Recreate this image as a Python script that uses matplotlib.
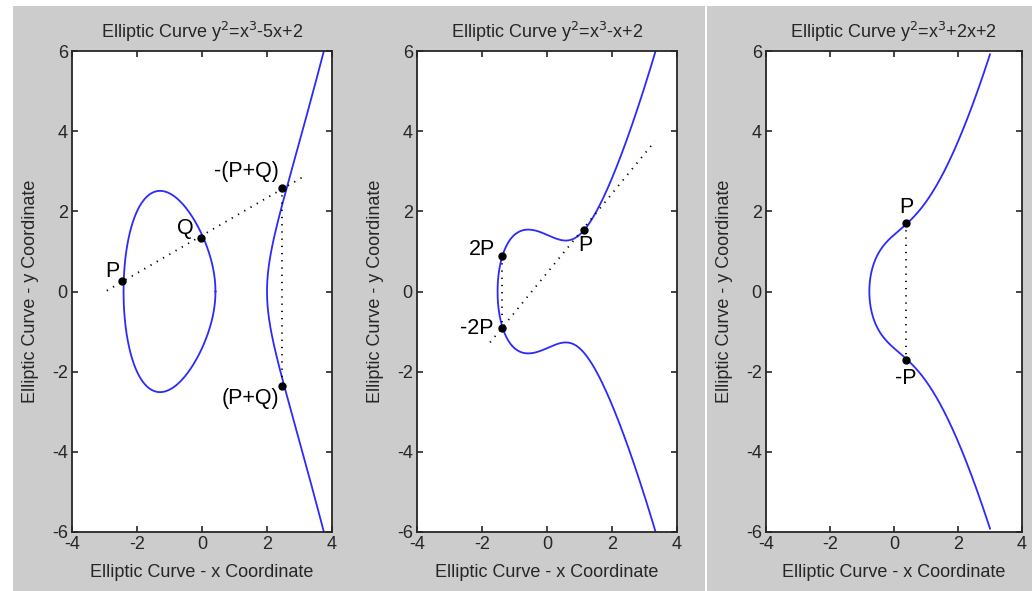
import numpy as np
import matplotlib.pyplot as plt
from matplotlib.patches import Rectangle

plt.rcParams['font.family'] = ['Liberation Sans', 'DejaVu Sans']
plt.rcParams['axes.unicode_minus'] = False

# curve coefficients y^2 = x^3 + a*x + b, read from the titles
coef_a = [-5, -1, 2]
coef_b = [2, 2, 2]
titles = ['Elliptic Curve y$^2$=x$^3$-5x+2',
          'Elliptic Curve y$^2$=x$^3$-x+2',
          'Elliptic Curve y$^2$=x$^3$+2x+2']
x_end = [3.8, 3.4, 3.0]

# marked points (x, y) and labels per panel
pts = [
    [(-2.47, 0.26), (-0.04, 1.34), (2.47, 2.57), (2.47, -2.36)],
    [(-1.38, 0.89), (-1.38, -0.92), (1.15, 1.54)],
    [(0.38, 1.72), (0.38, -1.71)],
]
pt_labels = [
    [('P', -2.77, 0.5), ('Q', -0.52, 1.56), ('-(P+Q)', 1.37, 2.99), ('(P+Q)', 1.48, -2.66)],
    [('2P', -2.01, 1.04), ('-2P', -2.16, -0.92), ('P', 1.19, 1.14)],
    [('P', 0.38, 2.1), ('-P', 0.38, -2.18)],
]
# dotted construction lines: (x0, y0, x1, y1)
dot_lines = [
    [(-2.93, 0.02, 3.09, 2.85), (2.47, 2.57, 2.47, -2.36)],
    [(-1.75, -1.27, 3.32, 3.75), (-1.38, 0.89, -1.38, -0.92)],
    [(0.38, 1.72, 0.38, -1.71)],
]

W, H = 1032, 591
fig = plt.figure(figsize=(W / 100, H / 100), dpi=100, facecolor='white')
# grey figure background (MATLAB style) with a white seam between the two source images
fig.patches.append(Rectangle((13 / W, 0), 1 - 13 / W, (H - 6) / H, transform=fig.transFigure,
                             facecolor='#cccccc', edgecolor='none', zorder=-10))
fig.patches.append(Rectangle((705 / W, 0), 2 / W, (H - 6) / H, transform=fig.transFigure,
                             facecolor='white', edgecolor='none', zorder=-9))

boxes = [(72, 260), (417, 260), (766, 256)]
for i in range(3):
    left, width = boxes[i]
    ax = fig.add_axes([left / W, (H - 532) / H, width / W, 481 / H])

    # curve
    xs = np.linspace(-4, x_end[i], 4000)
    rhs = xs ** 3 + coef_a[i] * xs + coef_b[i]
    if i == 0:
        # oval and right branch drawn separately
        branches = [(-2.4143, 0.4143), (2.0, x_end[0])]
    else:
        root = xs[np.argmax(rhs >= 0)]
        branches = [(root, x_end[i])]
    for lo, hi in branches:
        xb = np.linspace(lo, hi, 2000)
        yb = np.sqrt(np.clip(xb ** 3 + coef_a[i] * xb + coef_b[i], 0, None))
        ax.plot(np.r_[xb[::-1], xb], np.r_[yb[::-1], -yb], color='#2a2aff', lw=1.3)

    for x0, y0, x1, y1 in dot_lines[i]:
        ax.plot([x0, x1], [y0, y1], color='black', lw=1.3, linestyle=(0, (0.7, 3.3)))

    px = [p[0] for p in pts[i]]
    py = [p[1] for p in pts[i]]
    ax.plot(px, py, 'o', color='black', ms=5, zorder=5)
    for txt, tx, ty in pt_labels[i]:
        ax.text(tx, ty, txt, fontsize=15.5, ha='center', va='center')

    ax.set_xlim(-4, 4)
    ax.set_ylim(-6, 6)
    ax.set_xticks(np.arange(-4, 5, 2))
    ax.set_yticks(np.arange(-6, 7, 2))
    ax.tick_params(direction='in', top=True, right=True, length=4, width=1.2,
                   labelsize=13, colors='#262626', pad=3)
    for s in ax.spines.values():
        s.set_linewidth(1.3)
        s.set_color('#262626')
    ax.set_title(titles[i], fontsize=13, color='#262626', pad=9)
    ax.set_xlabel('Elliptic Curve - x Coordinate', fontsize=13, color='#262626', labelpad=8)
    ax.set_ylabel('Elliptic Curve - y Coordinate', fontsize=13, color='#262626', labelpad=9)

fig.savefig('out.png', dpi=100, facecolor=fig.get_facecolor())
